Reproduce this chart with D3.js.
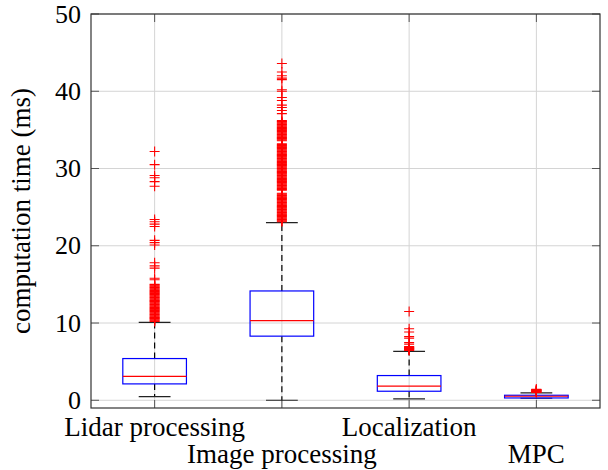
<!DOCTYPE html>
<html>
<head>
<meta charset="utf-8">
<script src="https://cdn.jsdelivr.net/npm/d3@7"></script>
<style>
  html, body { margin: 0; padding: 0; background: #fff; }
  svg { display: block; }
  text { font-family: "Liberation Serif", "Times New Roman", serif; fill: #000; }
</style>
</head>
<body>
<svg id="chart" width="608" height="470"></svg>
<script>
// ---- data ----
const categories = ["Lidar processing", "Image processing", "Localization", "MPC"];
const yTicks = [0, 10, 20, 30, 40, 50];
const q1 = [2.12, 8.3, 1.17, 0.3];
const median = [3.1, 10.3, 1.82, 0.52];
const q3 = [5.4, 14.15, 3.2, 0.65];
const whiskerLow = [0.47, 0.0, 0.17, 0.26];
const whiskerHigh = [10.08, 23.0, 6.34, 0.95];
const outliersLidar = [32.2, 30.5, 29.1, 28.8, 28.3, 27.7, 23.4, 23.1, 22.8, 22.5, 20.7, 20.4, 20.1,
  17.8, 17.4, 17.1, 15.8, 15.6, 15.0, 14.9, 14.8, 14.7, 14.6, 14.5, 14.4, 14.3, 14.2, 14.1, 14.0,
  13.9, 13.8, 13.7, 13.6, 13.5, 13.4, 13.3, 13.2, 13.1, 13.0, 12.9, 12.8, 12.7, 12.6, 12.5, 12.4,
  12.3, 12.2, 12.1, 12.0, 11.9, 11.8, 11.7, 11.6, 11.5, 11.4, 11.3, 11.2, 11.1, 11.0, 10.9, 10.8,
  10.7, 10.6, 10.5, 10.4, 10.3, 10.2];
const outliersImage = [43.6, 42.5, 42.0, 41.7, 41.5, 40.2, 40.0, 39.2, 38.8, 38.2, 37.9, 37.5, 37.1,
  36.2, 36.1, 36.0, 35.9, 35.8, 35.7, 35.6, 35.5, 35.4, 35.3, 35.2, 35.1, 35.0, 34.9, 34.8, 34.7,
  34.6, 34.5, 34.4, 34.3, 34.2, 34.1, 34.0, 33.9, 33.8, 33.7, 33.6, 33.2, 33.1, 33.0, 32.9, 32.8,
  32.7, 32.6, 32.5, 32.4, 32.3, 32.2, 32.1, 32.0, 31.9, 31.8, 31.7, 31.6, 31.5, 31.4, 31.3, 31.2,
  31.1, 31.0, 30.9, 30.8, 30.7, 30.6, 30.5, 30.4, 30.3, 30.2, 30.1, 30.0, 29.9, 29.8, 29.7, 29.6,
  29.5, 29.4, 29.3, 29.2, 29.1, 29.0, 28.9, 28.8, 28.7, 28.6, 28.5, 28.4, 28.3, 28.2, 28.1, 28.0,
  27.9, 27.8, 27.7, 27.6, 27.5, 27.4, 27.3, 27.2, 26.8, 26.7, 26.6, 26.5, 26.4, 26.3, 26.2, 26.1,
  26.0, 25.9, 25.8, 25.7, 25.6, 25.5, 25.4, 25.3, 25.2, 25.1, 25.0, 24.9, 24.8, 24.7, 24.6, 24.5,
  24.4, 24.3, 24.2, 24.1, 24.0, 23.9, 23.8, 23.7, 23.6, 23.5, 23.4, 23.3, 23.2, 23.1];
const outliersLocalization = [11.5, 9.26, 8.83, 8.26, 8.05, 7.48, 7.27, 6.96, 6.9, 6.85, 6.8, 6.75,
  6.7, 6.65, 6.6, 6.55, 6.5, 6.45];
const outliersMPC = [1.42, 1.38, 1.35, 1.3, 1.28, 1.24, 1.2, 1.16, 1.12, 1.08, 1.05, 1.0];
const outliers = [outliersLidar, outliersImage, outliersLocalization, outliersMPC];
const yLabel = "computation time (ms)";

// ---- layout ----
const mLeft = 91, mRight = 600, mTop = 14, mBottom = 408;
const svg = d3.select("#chart");
const x = d3.scaleBand().domain(categories).range([mLeft, mRight]);
const y = d3.scaleLinear().domain([-1, 50]).range([mBottom, mTop]);
const bw = x.bandwidth();
const cx = c => x(c) + bw / 2;

// grid
const grid = svg.append("g");
grid.selectAll("line.gy").data(yTicks).join("line")
  .attr("x1", mLeft).attr("x2", mRight)
  .attr("y1", d => y(d)).attr("y2", d => y(d))
  .attr("stroke", "#d4d4d4").attr("stroke-width", 1);
grid.selectAll("line.gx").data(categories).join("line")
  .attr("x1", d => cx(d)).attr("x2", d => cx(d))
  .attr("y1", mTop).attr("y2", mBottom)
  .attr("stroke", "#d4d4d4").attr("stroke-width", 1);

// inner ticks
const tl = 8;
const ticks = svg.append("g").attr("stroke", "#555").attr("stroke-width", 1);
yTicks.forEach(t => {
  ticks.append("line").attr("x1", mLeft).attr("x2", mLeft + tl).attr("y1", y(t)).attr("y2", y(t));
  ticks.append("line").attr("x1", mRight - tl).attr("x2", mRight).attr("y1", y(t)).attr("y2", y(t));
});
categories.forEach(c => {
  ticks.append("line").attr("x1", cx(c)).attr("x2", cx(c)).attr("y1", mTop).attr("y2", mTop + tl);
  ticks.append("line").attr("x1", cx(c)).attr("x2", cx(c)).attr("y1", mBottom - tl).attr("y2", mBottom);
});

// boxes
const g = svg.append("g");
categories.forEach((c, i) => {
  const xc = cx(c);
  const boxW = bw * 0.5, capW = bw * 0.25;
  g.append("line").attr("x1", xc).attr("x2", xc).attr("y1", y(q3[i])).attr("y2", y(whiskerHigh[i]))
    .attr("stroke", "#000").attr("stroke-width", 1.2).attr("stroke-dasharray", "6,4");
  g.append("line").attr("x1", xc).attr("x2", xc).attr("y1", y(q1[i])).attr("y2", y(whiskerLow[i]))
    .attr("stroke", "#000").attr("stroke-width", 1.2).attr("stroke-dasharray", "6,4");
  [whiskerHigh[i], whiskerLow[i]].forEach(v => {
    g.append("line").attr("x1", xc - capW / 2).attr("x2", xc + capW / 2).attr("y1", y(v)).attr("y2", y(v))
      .attr("stroke", "#222").attr("stroke-width", 1.2);
  });
  g.append("rect").attr("x", xc - boxW / 2).attr("width", boxW)
    .attr("y", y(q3[i])).attr("height", y(q1[i]) - y(q3[i]))
    .attr("fill", "none").attr("stroke", "#0000ff").attr("stroke-width", 1.2);
  g.append("line").attr("x1", xc - boxW / 2).attr("x2", xc + boxW / 2)
    .attr("y1", y(median[i])).attr("y2", y(median[i]))
    .attr("stroke", "#ff0000").attr("stroke-width", 1.2);
  g.selectAll(null).data(outliers[i]).join("path")
    .attr("transform", d => `translate(${xc},${y(d)})`)
    .attr("d", "M-5,0H5M0,-5V5")
    .attr("stroke", "#ff0000").attr("stroke-width", 1.1).attr("fill", "none");
});

// frame
svg.append("rect").attr("x", mLeft).attr("y", mTop).attr("width", mRight - mLeft).attr("height", mBottom - mTop)
  .attr("fill", "none").attr("stroke", "#333").attr("stroke-width", 1.2);

// y tick labels
svg.append("g").selectAll("text").data(yTicks).join("text")
  .attr("x", mLeft - 10).attr("y", d => y(d)).attr("dy", "0.33em")
  .attr("text-anchor", "end").attr("font-size", 26).text(d => d);

// x labels, alternating rows
svg.append("g").selectAll("text").data(categories).join("text")
  .attr("x", d => cx(d)).attr("y", (d, i) => i % 2 === 0 ? 436 : 463)
  .attr("text-anchor", "middle").attr("font-size", 27).text(d => d);

// y label
svg.append("text").attr("transform", `translate(30,${(mTop + mBottom) / 2}) rotate(-90)`)
  .attr("text-anchor", "middle").attr("font-size", 27).text(yLabel);
</script>
</body>
</html>
